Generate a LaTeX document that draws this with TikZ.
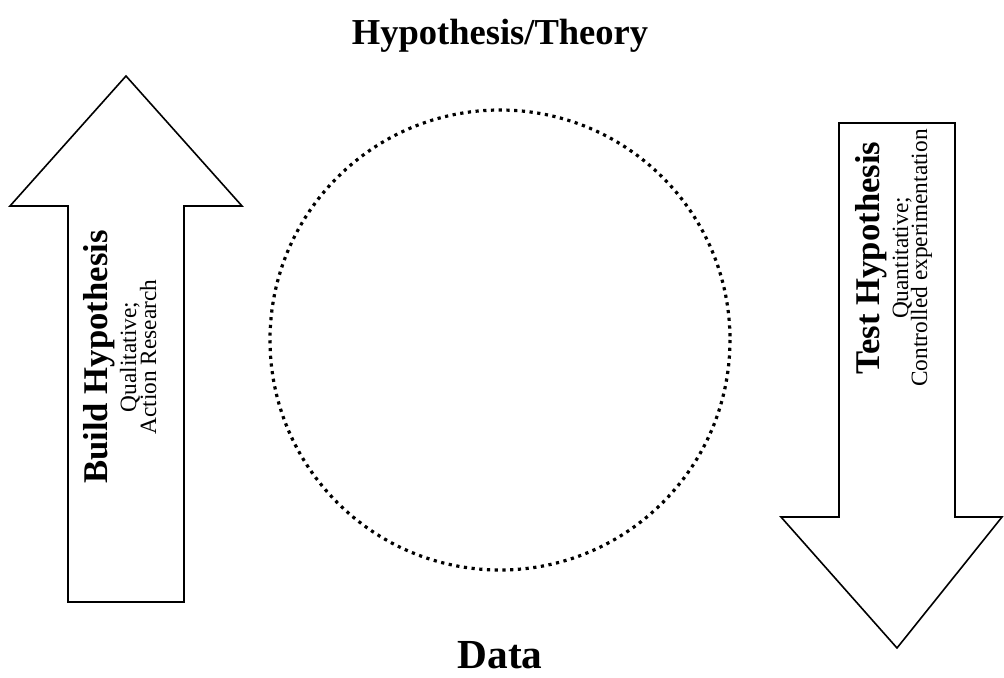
\documentclass[tikz,border=0pt]{standalone}
\usepackage{fontspec}
\setmainfont{Liberation Serif}
\tikzset{
  bigarrow/.style={draw=black, line width=1.2pt, line join=miter, fill=white},
  ring/.style={draw=black, line width=2.4pt, dash pattern=on 2.4pt off 3.4pt},
  titletext/.style={font=\fontsize{27.4}{32}\selectfont\bfseries, anchor=base, inner sep=0pt},
  datatext/.style={font=\fontsize{31}{36}\selectfont\bfseries, anchor=base, inner sep=0pt},
  boldlabel/.style={font=\fontsize{26}{30}\selectfont\bfseries, rotate=90, anchor=base},
  plainlabel/.style={font=\fontsize{17.5}{21}\selectfont, rotate=90, anchor=base},
}
\begin{document}
\begin{tikzpicture}[x=0.75pt, y=-0.75pt]
\useasboundingbox (0,0) rectangle (1004,678);
% left up arrow
\draw[bigarrow] (126,76) -- (242,206) -- (184,206) -- (184,602) -- (68,602) -- (68,206) -- (10,206) -- cycle;
% right down arrow
\draw[bigarrow] (839,123) -- (955,123) -- (955,517) -- (1002,517) -- (897,648) -- (781,517) -- (839,517) -- cycle;
% dotted circle
\draw[ring] (500,340) circle[radius=230];
% titles
\node[titletext] (top) at (500,45) {Hypothesis/Theory};
\node[datatext] (bottom) at (500,668) {Data};
% left labels
\node[boldlabel] (build) at (107,357) {Build Hypothesis};
\node[plainlabel] (qual) at (136,357) {Qualitative;};
\node[plainlabel] (action) at (156,357) {Action Research};
% right labels
\node[boldlabel] (test) at (879,258) {Test Hypothesis};
\node[plainlabel] (quant) at (908,258) {Quantitative;};
\node[plainlabel] (ctrl) at (927,258) {Controlled experimentation};
\end{tikzpicture}
\end{document}
